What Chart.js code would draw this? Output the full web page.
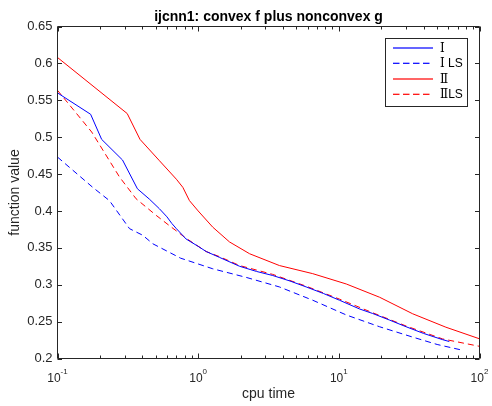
<!DOCTYPE html>
<html><head><meta charset="utf-8">
<script src="https://cdn.jsdelivr.net/npm/chart.js@4.4.1/dist/chart.umd.min.js"></script>
<style>html,body{margin:0;padding:0;background:#fff;overflow:hidden}</style>
</head><body>
<canvas id="c" width="492" height="406" style="width:492px;height:406px;display:block"></canvas>
<script>
const chartTitle = 'ijcnn1: convex f plus nonconvex g';
const xTitle = 'cpu time';
const yTitle = 'function value';
const seriesNames = ['Ⅰ', 'Ⅰ LS', 'Ⅱ', 'ⅡLS'];

// Ⅰ (blue solid)
const tI = [0.1, 0.172, 0.206, 0.29, 0.37, 0.45, 0.53, 0.6, 0.65, 0.7, 0.82, 1.0, 1.14, 1.42, 1.97, 2.6, 3.39, 4.5, 5.86, 7.8, 10.1, 14.1, 17.4, 23, 30.1, 40, 54.7, 61];
const vI = [0.560, 0.531, 0.497, 0.469, 0.430, 0.416, 0.403, 0.392, 0.383, 0.376, 0.362, 0.352, 0.345, 0.337, 0.325, 0.318, 0.3125, 0.305, 0.297, 0.288, 0.279, 0.267, 0.261, 0.252, 0.243, 0.234, 0.2255, 0.223];
// Ⅰ LS (blue dashed)
const tILS = [0.1, 0.178, 0.234, 0.325, 0.404, 0.476, 0.75, 1.27, 2.19, 3.78, 6.52, 11.3, 19.5, 33.5, 50, 72.6];
const vILS = [0.473, 0.432, 0.414, 0.376, 0.367, 0.3555, 0.336, 0.3216, 0.310, 0.297, 0.279, 0.259, 0.243, 0.229, 0.219, 0.212];
// Ⅱ (red solid)
const tII = [0.1, 0.313, 0.386, 0.531, 0.70, 0.778, 0.867, 1.0, 1.27, 1.67, 2.32, 3.78, 6.52, 11.3, 19.5, 33.5, 57.7, 100];
const vII = [0.608, 0.532, 0.497, 0.468, 0.443, 0.432, 0.414, 0.400, 0.378, 0.358, 0.342, 0.326, 0.315, 0.301, 0.283, 0.2606, 0.2424, 0.2267];
// Ⅱ LS (red dashed)
const tIILS = [0.1, 0.175, 0.276, 0.362, 0.503, 0.625, 0.82, 1.14, 1.42, 1.97, 3.39, 5.86, 10.1, 17.4, 30.1, 54.7, 100];
const vIILS = [0.5635, 0.507, 0.446, 0.4165, 0.394, 0.380, 0.363, 0.345, 0.338, 0.326, 0.314, 0.298, 0.2805, 0.262, 0.244, 0.2265, 0.2165];

const yTickValues = [0.2, 0.25, 0.3, 0.35, 0.4, 0.45, 0.5, 0.55, 0.6, 0.65];
const yTickLabels = ['0.2', '0.25', '0.3', '0.35', '0.4', '0.45', '0.5', '0.55', '0.6', '0.65'];
const xTickExponents = [-1, 0, 1, 2];
const xTickLabelExps = ['-1', '0', '1', '2'];

const seriesColors = ['#0000ff', '#0000ff', '#ff0000', '#ff0000'];
const seriesDashed = [false, true, false, true];

const AXIS = '#262626';
const FONT = "'Liberation Sans', Arial, Helvetica, sans-serif";

function pts(t, v) { return t.map((x, i) => ({ x: x, y: v[i] })); }

const datasets = [
  { label: seriesNames[0], data: pts(tI, vI) },
  { label: seriesNames[1], data: pts(tILS, vILS) },
  { label: seriesNames[2], data: pts(tII, vII) },
  { label: seriesNames[3], data: pts(tIILS, vIILS) }
].map((d, i) => Object.assign(d, {
  borderColor: seriesColors[i], borderDash: seriesDashed[i] ? [6, 4] : [],
  borderWidth: 1, pointRadius: 0, tension: 0, fill: false
}));

const matlabAxes = {
  id: 'matlabAxes',
  afterDraw(chart) {
    const ctx = chart.ctx;
    const a = chart.chartArea;
    const xs = chart.scales.x, ys = chart.scales.y;
    ctx.save();
    ctx.strokeStyle = AXIS;
    ctx.lineWidth = 1;
    ctx.setLineDash([]);
    // box
    ctx.beginPath();
    ctx.rect(a.left, a.top, a.right - a.left, a.bottom - a.top);
    ctx.stroke();
    // x ticks (inward, top & bottom)
    ctx.beginPath();
    xTickExponents.forEach((e) => {
      for (let m = 1; m <= 9; m++) {
        const val = m * Math.pow(10, e);
        if (val > 100.0001) break;
        const px = Math.round(xs.getPixelForValue(val)) + 0.5;
        const len = m === 1 ? 5 : 3;
        ctx.moveTo(px, a.bottom); ctx.lineTo(px, a.bottom - len);
        ctx.moveTo(px, a.top); ctx.lineTo(px, a.top + len);
      }
    });
    // y ticks (inward, left & right)
    yTickValues.forEach(v => {
      const py = Math.round(ys.getPixelForValue(v)) + 0.5;
      ctx.moveTo(a.left, py); ctx.lineTo(a.left + 4.5, py);
      ctx.moveTo(a.right, py); ctx.lineTo(a.right - 4.5, py);
    });
    ctx.stroke();
    // x tick labels 10^n
    ctx.fillStyle = AXIS;
    ctx.textBaseline = 'alphabetic';
    ctx.textAlign = 'left';
    xTickExponents.forEach((e, i) => {
      const px = xs.getPixelForValue(Math.pow(10, e));
      ctx.font = '12px ' + FONT;
      const wb = ctx.measureText('10').width;
      ctx.font = '8px ' + FONT;
      const we = ctx.measureText(xTickLabelExps[i]).width;
      const x0 = px - (wb + we) / 2;
      ctx.font = '12px ' + FONT;
      ctx.fillText('10', x0, 382);
      ctx.font = '8px ' + FONT;
      ctx.fillText(xTickLabelExps[i], x0 + wb, 374);
    });
    // legend box
    ctx.fillStyle = '#ffffff';
    ctx.fillRect(386, 39, 81, 67);
    ctx.fillStyle = AXIS;
    ctx.fillRect(385, 38, 83, 1);
    ctx.fillRect(385, 106, 83, 1);
    ctx.fillRect(385, 38, 1, 69);
    ctx.fillRect(467, 38, 1, 69);
    // legend samples (soft 2-row lines like the reference)
    const rows = [48, 63.3, 79, 94.3];
    for (let i = 0; i < seriesNames.length; i++) {
      ctx.fillStyle = seriesColors[i];
      if (seriesDashed[i]) {
        for (let x = 393; x < 433; x += 10) {
          ctx.fillRect(x, rows[i] - 0.6, Math.min(6.5, 433 - x), 1.2);
        }
      } else {
        ctx.fillRect(393, rows[i] - 0.6, 40, 1.2);
      }
      ctx.fillStyle = '#000000';
      ctx.font = "12px 'Liberation Sans', 'DejaVu Serif', 'Noto Sans CJK SC', sans-serif";
      ctx.textBaseline = 'middle';
      ctx.textAlign = 'left';
      ctx.fillText(seriesNames[i], 440, rows[i] + 0.5);
    }
    ctx.restore();
  }
};

new Chart(document.getElementById('c'), {
  type: 'line',
  data: { datasets },
  options: {
    responsive: false,
    devicePixelRatio: 1,
    animation: false,
    layout: { padding: { top: 0, right: 12.5, left: 0, bottom: 0 } },
    plugins: {
      legend: { display: false },
      tooltip: { enabled: false },
      title: {
        display: true, text: chartTitle, fullSize: false, color: '#000',
        font: { family: FONT, size: 14, weight: 'bold', lineHeight: 1.2 },
        padding: { top: 9.1, bottom: 0.6 }
      }
    },
    scales: {
      x: {
        type: 'logarithmic', min: 0.1, max: 100,
        grid: { display: false, drawTicks: false },
        border: { display: false },
        ticks: { display: false },
        title: { display: true, text: xTitle, color: AXIS, font: { family: FONT, size: 14 }, padding: { top: 0, bottom: 3 } },
        afterFit(s) { s.height = 47.5; }
      },
      y: {
        type: 'linear', min: 0.2, max: 0.65,
        afterBuildTicks(s) { s.ticks = yTickValues.map(v => ({ value: v })); },
        grid: { display: false, drawTicks: false },
        border: { display: false },
        ticks: {
          color: AXIS, padding: 5, font: { family: FONT, size: 13 },
          callback: (v) => { const i = yTickValues.findIndex(t => Math.abs(t - v) < 1e-9); return i >= 0 ? yTickLabels[i] : ''; }
        },
        title: { display: true, text: yTitle, color: AXIS, font: { family: FONT, size: 14 }, padding: { top: 7, bottom: 0 } },
        afterFit(s) { s.width = 57.5; }
      }
    }
  },
  plugins: [matlabAxes]
});
</script>
</body></html>
